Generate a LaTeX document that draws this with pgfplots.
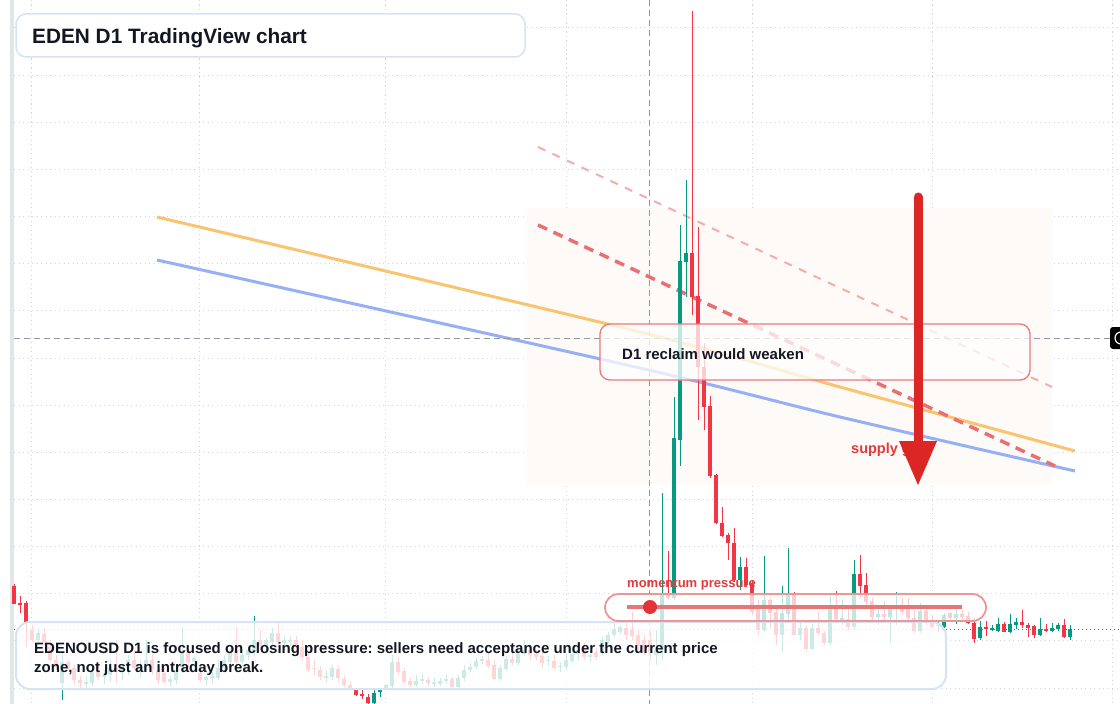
\documentclass[border=0pt]{standalone}
\usepackage{pgfplots}
\pgfplotsset{compat=1.18}
\usepackage{pgfplotstable}
\usepackage{fontspec}
\setmainfont{Liberation Sans}
\frenchspacing
\definecolor{upc}{HTML}{089981}
\definecolor{dnc}{HTML}{F23645}
\definecolor{txt}{HTML}{131722}
\definecolor{gridc}{RGB}{208,212,220}
\definecolor{boxb}{RGB}{214,226,246}
\definecolor{orl}{RGB}{248,197,110}
\definecolor{bll}{RGB}{150,175,245}
\definecolor{rdash}{RGB}{232,112,116}
\definecolor{rlight}{RGB}{245,172,172}
\definecolor{zone}{RGB}{254,250,247}
\definecolor{arrowc}{RGB}{220,38,38}
\definecolor{lblred}{RGB}{226,58,58}
\definecolor{stripc}{RGB}{226,229,235}
\definecolor{d1border}{RGB}{236,120,124}
\definecolor{mborder}{RGB}{238,150,150}
\definecolor{mline}{RGB}{232,118,118}
\definecolor{mdot}{RGB}{226,52,52}
\definecolor{crossc}{RGB}{150,152,160}
\pgfplotstableread{
k o h l c
0 586 584 604 604
1 603 596 613 604
2 603 601 647 622
3 630 625 642 640
4 640 628 642 633
5 634 628 645 642
6 647 640 662 660
7 660 655 670 667
8 683 653 700 662
9 662 660 670 668
10 668 665 685 680
11 680 676 688 683
12 683 676 688 682
13 683 668 686 672
14 670 665 680 677
15 677 670 684 675
16 675 660 682 668
17 668 640 683 672
18 672 665 680 666
19 666 655 675 660
20 660 650 670 668
21 668 660 678 664
22 664 640 672 660
23 660 655 675 670
24 670 666 684 680
25 673 668 684 682
26 682 676 686 679
27 680 668 684 670
28 667 628 673 652
29 652 645 668 662
30 662 656 670 658
31 673 668 682 680
32 680 676 686 677
33 678 672 684 676
34 678 660 680 668
35 668 655 672 660
36 662 648 665 653
37 650 627 664 662
38 662 650 666 655
39 655 645 660 650
40 652 616 656 640
41 640 630 650 646
42 646 638 652 640
43 642 628 645 633
44 633 623 645 642
45 643 636 648 640
46 642 636 646 640
47 640 636 650 647
48 647 640 660 657
49 657 652 672 670
50 668 660 676 669
51 670 666 680 677
52 677 670 682 676
53 677 665 680 668
54 669 665 682 678
55 679 676 687 685
56 685 682 690 688
57 690 688 696 695
58 694 690 699 696
59 697 694 704 703
60 703 690 704 693
61 692 689 697 690
62 688 684 690 685
63 686 655 688 662
64 662 657 675 672
65 671 668 684 682
66 681 678 687 685
67 685 675 687 681
68 681 674 684 679
69 680 677 686 683
70 683 678 687 682
71 684 678 686 681
72 681 675 684 679
73 679 677 688 687
74 687 675 688 678
75 678 665 681 670
76 670 663 672 667
77 667 658 669 661
78 661 656 664 659
79 660 653 668 666
80 665 660 680 679
81 679 665 681 668
82 669 656 671 659
83 659 650 665 663
84 663 650 665 654
85 654 640 656 650
86 650 645 660 655
87 654 650 660 657
88 656 652 668 663
89 661 656 666 660
90 661 655 670 668
91 667 662 672 666
92 667 654 670 660
93 661 648 663 654
94 654 646 660 650
95 650 643 660 657
96 657 650 662 655
97 652 648 660 657
98 653 636 655 640
99 641 632 643 635
100 635 623 637 629
101 632 625 634 627
102 628 620 640 635
103 630 612 640 636
104 635 630 650 646
105 640 635 655 652
106 640 632 660 652
107 655 630 665 650
108 650 493 660 593
109 593 551 600 598
110 598 397 600 438
111 440 225 466 261
112 262 180 297 253
113 253 11 315 297
114 296 227 420 367
115 367 343 430 407
116 406 396 478 476
117 475 474 524 523
118 523 507 537 536
119 535 533 560 543
120 543 528 582 580
121 580 557 590 567
122 567 558 587 585
123 584 580 615 612
124 608 600 635 630
125 630 556 632 600
126 600 598 628 613
127 612 605 645 635
128 635 586 652 613
129 614 548 623 594
130 594 592 635 635
131 635 622 640 628
132 628 626 652 649
133 649 624 650 628
134 628 612 635 633
135 633 631 645 643
136 643 593 645 605
137 605 591 620 619
138 619 600 625 618
139 619 605 630 627
140 627 560 630 574
141 574 555 598 586
142 585 573 605 602
143 601 598 622 617
144 617 608 625 614
145 614 601 620 617
146 617 605 643 608
147 608 592 625 605
148 605 598 615 612
149 606 598 620 618
150 618 610 633 631
151 631 603 633 611
152 611 607 625 623
153 620 615 629 627
154 626 620 632 625
155 627 613 628 615
156 613 612 620 618
157 618 607 624 614
158 614 610 620 617
159 616 612 624 623
160 623 618 643 639
161 638 621 640 627
162 627 621 636 629
163 629 625 631 628
164 631 618 632 624
165 624 622 632 632
166 632 614 633 624
167 625 618 629 622
168 622 610 628 625
169 625 623 637 628
170 626 625 638 635
171 635 618 636 629
172 629 624 632 631
173 631 623 632 628
174 629 623 631 625
175 625 619 638 637
176 637 625 640 629
}\candles
\begin{document}
\begin{tikzpicture}
\begin{axis}[x=1bp, y=1bp, y dir=reverse, xmin=0, xmax=1120, ymin=0, ymax=704,
  hide axis, clip=true]
% background
\fill[white] (0,0) rectangle (1120,704);
% grid
\pgfplotsinvokeforeach{0,...,14}{
  \draw[gridc, line width=1bp, dash pattern=on 1.2bp off 3.3bp] (14,{28+47.15*#1}) -- (1120,{28+47.15*#1});
}
\pgfplotsinvokeforeach{31,199,385,566,752,932,1112}{
  \draw[gridc, line width=1bp, dash pattern=on 1.2bp off 3.3bp] (#1,0) -- (#1,704);
}
% left strip
\fill[stripc] (10,0) rectangle (14,704);
% supply zone
\fill[zone] (527,208) rectangle (1052,484);
% MA-like lines
\addplot[orl, line width=3bp, smooth, forget plot] coordinates {(157,217) (640,332) (840,387) (1075,451)};
\addplot[bll, line width=3bp, smooth, forget plot] coordinates {(157,260) (640,368) (840,417) (1075,471)};
% dashed trend lines
\addplot[rlight, line width=2bp, dash pattern=on 8bp off 8bp, forget plot] coordinates {(538,147) (1052,387)};
\addplot[rdash, line width=3.5bp, dash pattern=on 10bp off 7bp, forget plot] coordinates {(538,225) (1055,466)};
% crosshair
\draw[crossc, line width=1bp, dash pattern=on 6bp off 4bp] (649,0) -- (649,704);
\draw[crossc, line width=1bp, dash pattern=on 6bp off 4bp] (14,338) -- (1110,338);
% price line
\draw[upc, line width=1bp, dash pattern=on 1.3bp off 2.7bp] (14,629) -- (1120,629);
% candles: wicks
\addplot[draw=none, mark=none, forget plot,
  restrict expr to domain={\thisrow{o}-\thisrow{c}}{0.001:10000},
  error bars/.cd, y dir=both, y explicit, error mark=none,
  error bar style={line width=1bp, draw=upc}]
  table[x expr={14+6*\thisrow{k}}, y expr={(\thisrow{h}+\thisrow{l})/2}, y error expr={(\thisrow{l}-\thisrow{h})/2}] {\candles};
\addplot[draw=none, mark=none, forget plot,
  restrict expr to domain={\thisrow{c}-\thisrow{o}}{0.001:10000},
  error bars/.cd, y dir=both, y explicit, error mark=none,
  error bar style={line width=1bp, draw=dnc}]
  table[x expr={14+6*\thisrow{k}}, y expr={(\thisrow{h}+\thisrow{l})/2}, y error expr={(\thisrow{l}-\thisrow{h})/2}] {\candles};
% candles: bodies
\addplot[draw=none, mark=none, forget plot,
  restrict expr to domain={\thisrow{o}-\thisrow{c}}{0.001:10000},
  error bars/.cd, y dir=both, y explicit, error mark=none,
  error bar style={line width=4.6bp, draw=upc}]
  table[x expr={14+6*\thisrow{k}}, y expr={(\thisrow{o}+\thisrow{c})/2}, y error expr={max(abs(\thisrow{o}-\thisrow{c})/2,0.6)}] {\candles};
\addplot[draw=none, mark=none, forget plot,
  restrict expr to domain={\thisrow{c}-\thisrow{o}}{0.001:10000},
  error bars/.cd, y dir=both, y explicit, error mark=none,
  error bar style={line width=4.6bp, draw=dnc}]
  table[x expr={14+6*\thisrow{k}}, y expr={(\thisrow{o}+\thisrow{c})/2}, y error expr={max(abs(\thisrow{o}-\thisrow{c})/2,0.6)}] {\candles};
% D1 reclaim box
\draw[draw=d1border, line width=1.3bp, fill=white, fill opacity=0.75, rounded corners=10bp] (600,324) rectangle (1030,380);
\node[anchor=base west, inner sep=0pt, text=txt, font=\fontsize{15bp}{18bp}\selectfont\bfseries] at (622,359) {D1 reclaim would weaken};
% bottom note box
\draw[draw=boxb, line width=2bp, fill=white, fill opacity=0.8, rounded corners=14bp] (16,622) rectangle (946,689);
\node[anchor=base west, inner sep=0pt, text=txt, font=\fontsize{15bp}{18bp}\selectfont\bfseries] at (34,653.5) {EDENOUSD D1 is focused on closing pressure: sellers need acceptance under the current price};
\node[anchor=base west, inner sep=0pt, text=txt, font=\fontsize{15bp}{18bp}\selectfont\bfseries] at (34,672.5) {zone, not just an intraday break.};
% momentum box
\draw[draw=mborder, line width=1.8bp, fill=white, fill opacity=0.75, rounded corners=13.5bp] (605,594) rectangle (986,621);
\draw[draw=mline, line width=3.5bp] (627,607) -- (962,607);
\fill[mdot] (650,607) circle[radius=7bp];
\node[anchor=base west, inner sep=0pt, text=lblred, font=\fontsize{13bp}{16bp}\selectfont\bfseries] at (627,587) {momentum pressure};
% supply gate label and arrow
\node[anchor=base west, inner sep=0pt, text=lblred, font=\fontsize{14.5bp}{17bp}\selectfont\bfseries] at (851,453) {supply gate};
\draw[arrowc, line width=9bp, line cap=round] (918,197) -- (918,445);
\fill[arrowc] (899,441) -- (937,441) -- (918,485) -- cycle;
% title box
\draw[draw=boxb, line width=1.5bp, fill=white, rounded corners=10bp] (16,14) rectangle (525,57);
\node[anchor=base west, inner sep=0pt, text=txt, font=\fontsize{20.8bp}{24bp}\selectfont\bfseries] at (32,43.5) {EDEN D1 TradingView chart};
% right edge label
\fill[black, rounded corners=3bp] (1110,327) rectangle (1140,349);
\draw[white, line width=1.2bp] (1121,338) circle[radius=6bp];
\end{axis}
\end{tikzpicture}
\end{document}
